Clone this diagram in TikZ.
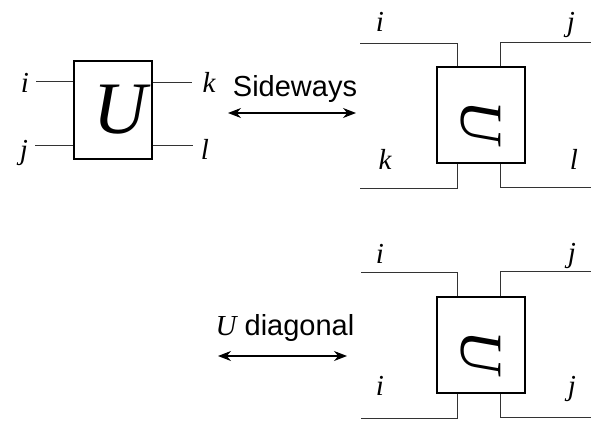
\documentclass[tikz,border=0pt]{standalone}
\usepackage{fontspec}
\setmainfont{Liberation Serif}
\newfontfamily\sidefont{Liberation Sans}
\usetikzlibrary{arrows.meta, positioning}

\begin{document}
\begin{tikzpicture}[x=1pt,y=-1pt,
    gate/.style={draw,line width=1.4pt,inner sep=0pt,minimum width=88pt,minimum height=96pt},
    wire/.style={line width=0.9pt,draw=black!80},
    lbl/.style={anchor=base,inner sep=1pt,font=\fontsize{29}{29}\selectfont\itshape},
    tag/.style={anchor=base,inner sep=1pt,font=\fontsize{29}{29}\sidefont},
    swap/.style={{Stealth[length=13pt,width=10pt]}-{Stealth[length=13pt,width=10pt]},line width=1.1pt}]
    \useasboundingbox (0,0) rectangle (591,422);

    % original gate
    \node[gate,minimum width=78pt,minimum height=98pt,font=\fontsize{74}{74}\selectfont\itshape] (U1) at (113,110) {\hspace*{14pt}U};
    \node[lbl] (i1) at (25,93) {i};
    \node[lbl] (j1) at (24,160) {j};
    \node[lbl] (k1) at (209,93) {k};
    \node[lbl] (l1) at (205,160) {l};
    \coordinate (wi) at (36,81);
    \coordinate (wj) at (35,145);
    \coordinate (wk) at (192,82);
    \coordinate (wl) at (193,145);
    \draw[wire] (wi) -- (U1.west |- wi);
    \draw[wire] (wj) -- (U1.west |- wj);
    \draw[wire] (U1.east |- wk) -- (wk);
    \draw[wire] (U1.east |- wl) -- (wl);

    % sideways
    \node[tag] (side) at (295,97) {Sideways};
    \coordinate (s1) at (228,113);
    \coordinate (s2) at (356,113);
    \draw[swap] (s1) -- (s2);

    \node[gate,font=\fontsize{60}{60}\selectfont\itshape] (U2) at (481,115) {\rotatebox{-90}{\hspace*{14pt}U}};
    \node[lbl] (i2) at (380,32) {i};
    \node[lbl] (j2) at (571,32) {j};
    \node[lbl] (k2) at (385,170) {k};
    \node[lbl] (l2) at (574,170) {l};
    \coordinate (ti) at (360,43);
    \coordinate (tj) at (591,42);
    \coordinate (tk) at (360,188);
    \coordinate (tl) at (591,187);
    \draw[wire] ([xshift=21pt]U2.north west) |- (ti);
    \draw[wire] ([xshift=-25pt]U2.north east) |- (tj);
    \draw[wire] ([xshift=21pt]U2.south west) |- (tk);
    \draw[wire] ([xshift=-25pt]U2.south east) |- (tl);

    % diagonal
    \node[tag] (diag) at (285,335) {{\rmfamily\itshape U} diagonal};
    \coordinate (d1) at (218,356);
    \coordinate (d2) at (347,356);
    \draw[swap] (d1) -- (d2);

    \node[gate,font=\fontsize{60}{60}\selectfont\itshape] (U3) at (481,345) {\rotatebox{-90}{\hspace*{14pt}U}};
    \node[lbl] (i3) at (380,263) {i};
    \node[lbl] (j3) at (572,262) {j};
    \node[lbl] (i4) at (380,395) {i};
    \node[lbl] (j4) at (572,395) {j};
    \coordinate (bi) at (361,272);
    \coordinate (bj) at (591,271);
    \coordinate (bk) at (361,418);
    \coordinate (bl) at (591,417);
    \draw[wire] ([xshift=21pt]U3.north west) |- (bi);
    \draw[wire] ([xshift=-25pt]U3.north east) |- (bj);
    \draw[wire] ([xshift=21pt]U3.south west) |- (bk);
    \draw[wire] ([xshift=-25pt]U3.south east) |- (bl);
\end{tikzpicture}
\end{document}
